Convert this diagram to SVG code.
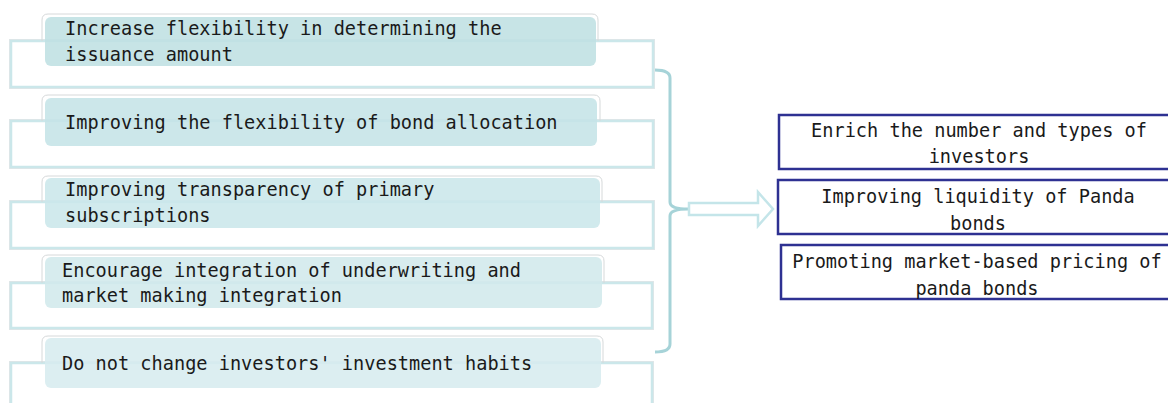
<svg xmlns="http://www.w3.org/2000/svg" width="1168" height="403" viewBox="0 0 1168 403">
<style>
.outer{fill:#ffffff;stroke:#cbe7ea;stroke-width:2.5}
.outerSh{fill:none;stroke:#e2e6e7;stroke-width:4}
.hl{fill:none;stroke:#d6d9da;stroke-width:1}
.box{stroke:none;fill-opacity:0.88}
.t{font-family:"DejaVu Sans Mono","Liberation Mono",monospace;font-size:18.6px;fill:#1a1a1a}
.tc{text-anchor:middle}
.rbox{fill:#ffffff;stroke:#2e3192;stroke-width:2.5}
.brace{fill:none;stroke:#a6d3d8;stroke-width:3;stroke-linejoin:round}
.arrow{fill:#ffffff;stroke:#c4e5e9;stroke-width:2.5}
</style>
<rect width="1168" height="403" fill="#ffffff"/>

<g id="item1">
<rect class="outerSh" x="11" y="41" width="642" height="46"/>
<rect class="outer" x="11" y="41" width="642" height="46"/>
<path class="hl" d="M42,41 L42,20 Q42,14 48,14 L592,14 Q598,14 598,20 L598,41"/>
<rect class="box" x="45" y="17" width="551" height="49" rx="6" fill="#bfe0e3"/>
<text class="t" x="65" y="35">Increase flexibility in determining the</text>
<text class="t" x="65" y="61">issuance amount</text>
</g>

<g id="item2">
<rect class="outerSh" x="11" y="121" width="642" height="46"/>
<rect class="outer" x="11" y="121" width="642" height="46"/>
<path class="hl" d="M42,121 L42,101 Q42,95 48,95 L594,95 Q600,95 600,101 L600,121"/>
<rect class="box" x="45" y="98" width="552" height="48" rx="6" fill="#c5e4e7"/>
<text class="t" x="65" y="129">Improving the flexibility of bond allocation</text>
</g>

<g id="item3">
<rect class="outerSh" x="11" y="202" width="642" height="46"/>
<rect class="outer" x="11" y="202" width="642" height="46"/>
<path class="hl" d="M42,202 L42,182 Q42,176 48,176 L596,176 Q602,176 602,182 L602,202"/>
<rect class="box" x="45" y="178" width="555" height="50" rx="6" fill="#cbe7ea"/>
<text class="t" x="65" y="195.5">Improving transparency of primary</text>
<text class="t" x="65" y="222">subscriptions</text>
</g>

<g id="item4">
<rect class="outerSh" x="11" y="283" width="641" height="45"/>
<rect class="outer" x="11" y="283" width="641" height="45"/>
<path class="hl" d="M42,283 L42,261 Q42,255 48,255 L598,255 Q604,255 604,261 L604,283"/>
<rect class="box" x="45" y="257" width="557" height="51" rx="6" fill="#d1e9ec"/>
<text class="t" x="62" y="277">Encourage integration of underwriting and</text>
<text class="t" x="62" y="302">market making integration</text>
</g>

<g id="item5">
<rect class="outerSh" x="11" y="363" width="641" height="60"/>
<rect class="outer" x="11" y="363" width="641" height="60"/>
<path class="hl" d="M42,363 L42,342 Q42,336 48,336 L597,336 Q603,336 603,342 L603,363"/>
<rect class="box" x="45" y="338" width="556" height="50" rx="6" fill="#d7ecef"/>
<text class="t" x="62" y="370">Do not change investors' investment habits</text>
</g>

<g id="connectors">
<path class="brace" d="M655,70 Q670,70 670,78 L670,202 Q670,209 688,209 Q670,209 670,216 L670,344 Q670,352 655,352"/>
<path class="arrow" d="M689,203 L758,203 L758,192 L773,209 L758,226 L758,215 L689,215 Z"/>
</g>

<g id="result1">
<rect class="rbox" x="779" y="115" width="400" height="54"/>
<text class="t tc" x="979" y="136.5">Enrich the number and types of</text>
<text class="t tc" x="979" y="163">investors</text>
</g>

<g id="result2">
<rect class="rbox" x="778" y="180" width="400" height="54"/>
<text class="t tc" x="978" y="203">Improving liquidity of Panda</text>
<text class="t tc" x="978" y="230">bonds</text>
</g>

<g id="result3">
<rect class="rbox" x="781" y="245" width="400" height="54"/>
<text class="t tc" x="977" y="268">Promoting market-based pricing of</text>
<text class="t tc" x="977" y="295">panda bonds</text>
</g>
</svg>
